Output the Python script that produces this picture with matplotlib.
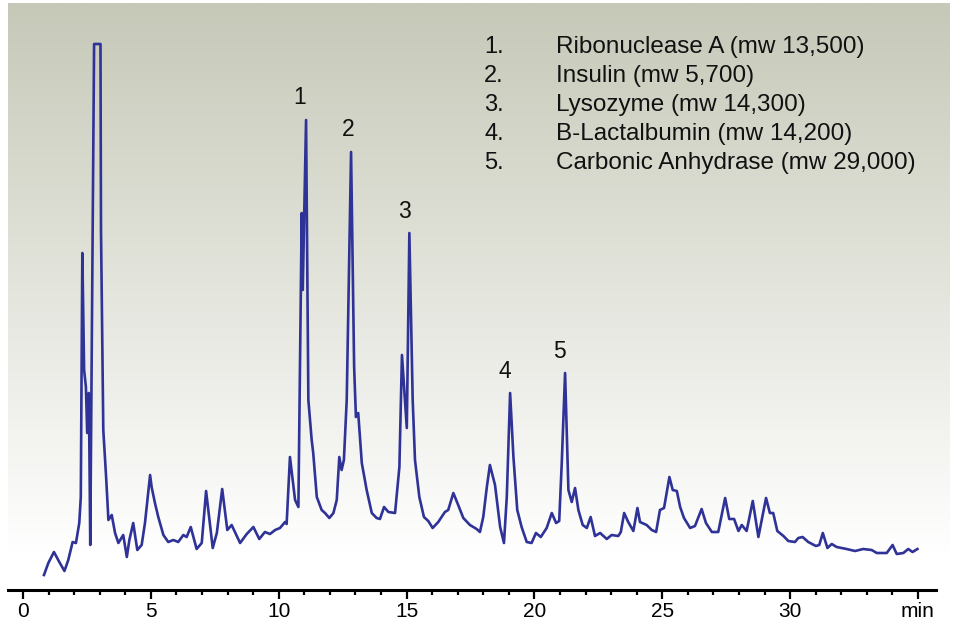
import numpy as np
import matplotlib
matplotlib.use("Agg")
import matplotlib.pyplot as plt
from matplotlib.colors import LinearSegmentedColormap

plt.rcParams['font.family'] = ['Liberation Sans', 'DejaVu Sans']

# Retention time (min) and detector signal (arbitrary units)
time_min = [
    0.82, 0.99, 1.21, 1.42, 1.62, 1.77, 1.94, 2.07, 2.20, 2.26,
    2.32, 2.39, 2.46, 2.51, 2.57, 2.59, 2.63, 2.78, 3.03, 3.05,
    3.14, 3.25, 3.34, 3.47, 3.60, 3.73, 3.92, 4.06, 4.16, 4.31,
    4.47, 4.64, 4.77, 4.97, 5.03, 5.16, 5.29, 5.49, 5.68, 5.88,
    6.07, 6.27, 6.40, 6.56, 6.79, 6.99, 7.16, 7.42, 7.58, 7.79,
    7.99, 8.16, 8.49, 8.75, 9.01, 9.24, 9.46, 9.66, 9.86, 10.05,
    10.25, 10.31, 10.44, 10.64, 10.77, 10.90, 10.94, 11.07, 11.16, 11.29,
    11.35, 11.49, 11.68, 11.81, 11.98, 12.14, 12.27, 12.37, 12.46, 12.55,
    12.66, 12.83, 12.95, 13.02, 13.11, 13.25, 13.44, 13.64, 13.83, 13.96,
    14.12, 14.29, 14.55, 14.72, 14.82, 15.01, 15.11, 15.24, 15.33, 15.50,
    15.68, 15.85, 16.02, 16.24, 16.50, 16.63, 16.83, 17.02, 17.22, 17.48,
    17.74, 17.87, 18.00, 18.14, 18.26, 18.46, 18.66, 18.81, 18.92, 19.05,
    19.18, 19.33, 19.50, 19.70, 19.89, 20.06, 20.25, 20.48, 20.68, 20.85,
    20.97, 21.07, 21.20, 21.33, 21.46, 21.59, 21.72, 21.89, 22.05, 22.20,
    22.37, 22.57, 22.83, 23.02, 23.28, 23.38, 23.51, 23.67, 23.87, 24.03,
    24.13, 24.39, 24.59, 24.76, 24.91, 25.07, 25.28, 25.41, 25.57, 25.70,
    25.85, 26.09, 26.28, 26.54, 26.71, 26.94, 27.19, 27.46, 27.62, 27.81,
    27.98, 28.11, 28.30, 28.54, 28.76, 29.06, 29.21, 29.34, 29.50, 29.74,
    29.93, 30.19, 30.32, 30.49, 30.71, 31.01, 31.14, 31.28, 31.46, 31.63,
    31.82, 32.21, 32.54, 32.86, 33.19, 33.39, 33.78, 34.01, 34.17, 34.43,
    34.62, 34.79, 34.98,
]
signal = [
    5, 17, 28, 18, 9, 20, 38, 37, 57, 83,
    327, 210, 193, 147, 187, 147, 35, 536, 536, 350,
    150, 103, 60, 65, 47, 37, 45, 23, 40, 57,
    30, 35, 57, 105, 93, 77, 63, 45, 38, 40,
    38, 45, 43, 53, 31, 37, 89, 32, 47, 91,
    50, 55, 37, 46, 53, 41, 48, 46, 50, 52,
    58, 56, 123, 80, 73, 367, 290, 460, 180, 140,
    127, 83, 70, 67, 62, 67, 80, 123, 110, 120,
    180, 428, 213, 163, 167, 117, 90, 67, 62, 61,
    73, 68, 67, 113, 225, 152, 347, 180, 120, 83,
    63, 59, 52, 58, 68, 70, 87, 75, 62, 55,
    51, 48, 63, 93, 115, 95, 53, 37, 83, 187,
    123, 70, 53, 38, 37, 47, 43, 52, 67, 57,
    59, 117, 207, 90, 78, 92, 70, 55, 52, 63,
    44, 47, 41, 45, 44, 48, 67, 58, 49, 72,
    58, 55, 50, 48, 70, 72, 103, 90, 89, 73,
    62, 52, 54, 71, 57, 48, 48, 82, 61, 61,
    49, 55, 49, 79, 43, 82, 67, 67, 49, 44,
    39, 38, 42, 43, 38, 34, 35, 47, 32, 36,
    33, 31, 29, 31, 30, 27, 27, 35, 26, 27,
    31, 28, 31,
]

# Peak numbers placed above the identified proteins
peak_ids = ["1", "2", "3", "4", "5"]
peak_label_time = [10.83, 12.71, 14.90, 18.85, 21.00]
peak_label_signal = [483, 450, 368, 209, 228]

legend_nums = ["1.", "2.", "3.", "4.", "5."]
legend_names = [
    "Ribonuclease A (mw 13,500)",
    "Insulin (mw 5,700)",
    "Lysozyme (mw 14,300)",
    "B-Lactalbumin (mw 14,200)",
    "Carbonic Anhydrase (mw 29,000)",
]

major_ticks = [0, 5, 10, 15, 20, 25, 30, 35]
major_labels = ["0", "5", "10", "15", "20", "25", "30", "min"]
minor_ticks = [t for t in range(0, 36) if t % 5 != 0]

W, H = 955, 625
fig = plt.figure(figsize=(W / 100, H / 100), dpi=100)
ax = fig.add_axes([8 / W, 35 / H, 942 / W, 587 / H])

xlim = (-0.587, 36.254)
ylim = (-10, 577)
ax.set_xlim(*xlim)
ax.set_ylim(*ylim)

# Soft grey-green gradient behind the trace, fading to white at the baseline
grad = np.linspace(0, 1, 256).reshape(-1, 1)
cmap = LinearSegmentedColormap.from_list(
    "bg", [(0.0, "#ffffff"), (0.06, "#ffffff"), (1.0, "#c6c9b8")])
ax.imshow(grad, extent=(xlim[0], xlim[1], ylim[0], ylim[1]), origin="lower",
          aspect="auto", cmap=cmap, zorder=0, interpolation="bilinear")

ax.plot(time_min, signal, color="#2f3296", lw=1.9, solid_joinstyle="round",
        zorder=3)

for lab, tx, ty in zip(peak_ids, peak_label_time, peak_label_signal):
    ax.text(tx, ty, lab, ha="center", va="center", fontsize=16.5, color="#111111")

legend_y = [533, 504, 475, 446, 417]
for num, name, ly in zip(legend_nums, legend_names, legend_y):
    ax.text(18.03, ly, num, ha="left", va="center", fontsize=17, color="#111111")
    ax.text(20.83, ly, name, ha="left", va="center", fontsize=17.5, color="#111111")

for side in ("top", "left", "right"):
    ax.spines[side].set_visible(False)
ax.spines["bottom"].set_linewidth(2.2)
ax.spines["bottom"].set_bounds(-0.59, 35.72)

ax.set_yticks([])
ax.set_xticks(major_ticks)
ax.set_xticklabels(major_labels, fontsize=15)
ax.set_xticks(minor_ticks, minor=True)
ax.tick_params(axis="x", which="major", direction="out", length=6.5, width=1.6,
               pad=2, colors="black")
ax.tick_params(axis="x", which="minor", direction="out", length=3.5, width=1.6)

fig.savefig("out.png", dpi=100)
